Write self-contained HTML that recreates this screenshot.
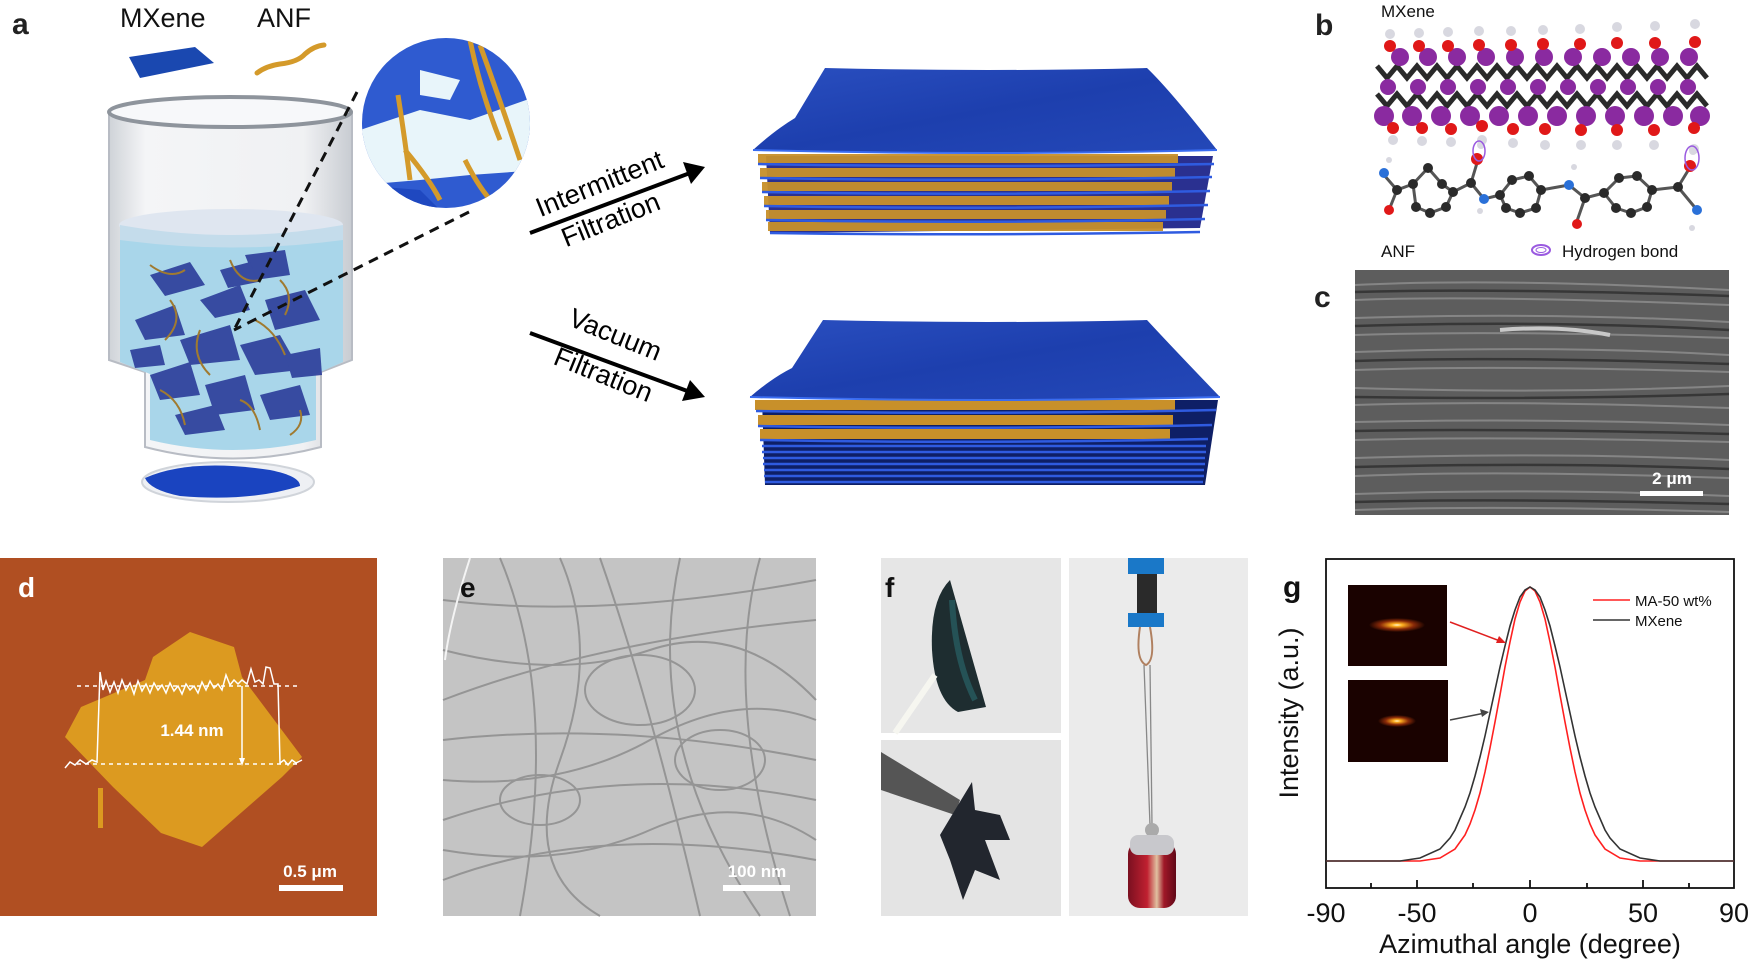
<!DOCTYPE html>
<html><head><meta charset="utf-8">
<style>
html,body{margin:0;padding:0;background:#fff;}
svg{display:block;font-family:"Liberation Sans",Arial,sans-serif;}
</style></head>
<body>
<svg width="1750" height="961" viewBox="0 0 1750 961" xmlns="http://www.w3.org/2000/svg">
<defs>
<linearGradient id="sheet" x1="0" y1="0" x2="1" y2="1">
<stop offset="0" stop-color="#2a4fc0"/><stop offset="0.5" stop-color="#1d3fae"/><stop offset="1" stop-color="#2448b8"/>
</linearGradient>
<linearGradient id="glass" x1="0" y1="0" x2="1" y2="0">
<stop offset="0" stop-color="#cfd3d8"/><stop offset="0.15" stop-color="#f4f5f7"/><stop offset="0.8" stop-color="#f0f1f3"/><stop offset="1" stop-color="#c8ccd2"/>
</linearGradient>
<radialGradient id="spot1" cx="0.5" cy="0.5" r="0.5"><stop offset="0" stop-color="#fff8d0"/><stop offset="0.2" stop-color="#ffb020"/><stop offset="0.6" stop-color="#8a2a08"/><stop offset="1" stop-color="#1a0300"/></radialGradient>
<linearGradient id="weight" x1="0" y1="0" x2="1" y2="0"><stop offset="0" stop-color="#7a1020"/><stop offset="0.4" stop-color="#c02030"/><stop offset="0.6" stop-color="#e0c0a0"/><stop offset="0.75" stop-color="#a01828"/><stop offset="1" stop-color="#600818"/></linearGradient>
</defs>

<!-- ===== Panel a ===== -->
<text x="12" y="34" font-size="30" font-weight="bold" fill="#222">a</text>
<text x="120" y="27" font-size="27" fill="#111">MXene</text>
<text x="257" y="27" font-size="27" fill="#111">ANF</text>
<polygon points="129,57 195,47 214,63 140,78" fill="#1a48b0"/>
<path d="M257,73 Q266,66 280,64 Q298,62 305,54 Q314,46 324,45" stroke="#d49a2a" stroke-width="5" fill="none" stroke-linecap="round"/>

<!-- beaker -->
<path d="M109,112 L109,360 L145,372 L145,447 Q233,470 321,447 L321,372 L352,360 L352,112 Z" fill="url(#glass)" stroke="#b8bcc4" stroke-width="2"/>
<ellipse cx="230" cy="112" rx="121" ry="15" fill="#f7f8fa" stroke="#8e949c" stroke-width="4"/>
<path d="M120,240 L120,362 L150,374 L150,440 Q233,460 316,440 L316,374 L343,362 L343,240 Z" fill="#a9d6ea"/>
<ellipse cx="231" cy="225" rx="112" ry="16" fill="#dfe6f0"/>
<path d="M120,225 L120,240 Q231,255 343,240 L343,225 Q231,245 120,225Z" fill="#c4dceb"/>
<g fill="#2b3c9a" opacity="0.9">
<polygon points="150,275 190,262 205,285 165,296"/><polygon points="200,300 240,285 250,310 215,318"/>
<polygon points="135,320 175,305 185,335 145,340"/><polygon points="245,255 285,250 290,275 255,280"/>
<polygon points="265,300 305,290 320,320 275,330"/><polygon points="180,340 230,325 240,360 190,365"/>
<polygon points="240,345 280,335 300,370 255,375"/><polygon points="150,375 190,362 200,395 160,400"/>
<polygon points="205,385 245,375 255,410 215,415"/><polygon points="260,395 300,385 310,415 270,420"/>
<polygon points="175,415 215,405 225,430 185,435"/><polygon points="220,270 250,262 258,282 228,288"/>
<polygon points="130,350 160,345 165,365 135,368"/><polygon points="285,355 320,348 322,375 292,378"/>
</g>
<g stroke="#a07a30" stroke-width="2" fill="none">
<path d="M150,265 q20,15 35,5"/><path d="M230,260 q10,25 30,20"/><path d="M170,300 q15,20 -5,40"/><path d="M255,320 q20,10 30,35"/>
<path d="M200,330 q-10,25 10,45"/><path d="M280,280 q15,15 5,35"/><path d="M160,390 q20,10 25,35"/><path d="M240,400 q15,5 20,30"/><path d="M300,410 q5,15 -10,25"/>
</g>
<ellipse cx="228" cy="482" rx="86" ry="20" fill="#eef0f4" stroke="#d0d4da" stroke-width="2"/>
<path d="M145,478 Q190,458 270,470 Q300,476 300,486 Q250,502 180,496 Q150,490 145,478Z" fill="#1a44c0"/>

<!-- zoom circle -->
<clipPath id="cc"><ellipse cx="446" cy="123" rx="84" ry="85"/></clipPath>
<g clip-path="url(#cc)">
<rect x="360" y="37" width="172" height="172" fill="#2f5bd0"/>
<polygon points="360,130 420,110 470,120 540,95 540,170 470,175 420,180 360,185" fill="#e8f5fa"/>
<polygon points="420,70 460,80 450,100 420,95" fill="#e8f5fa"/>
<polygon points="360,185 420,190 440,210 360,210" fill="#1f48c0"/>
<g stroke="#d49a2a" stroke-width="5" fill="none">
<path d="M398,95 Q405,140 410,180"/><path d="M405,150 Q430,180 440,200"/><path d="M470,40 Q480,90 500,140"/><path d="M480,45 Q500,100 520,160"/><path d="M465,160 Q480,190 495,205"/>
</g>
</g>
<g stroke="#111" stroke-width="3" stroke-dasharray="10,7" fill="none">
<line x1="357" y1="92" x2="234" y2="330"/>
<line x1="469" y1="212" x2="234" y2="330"/>
</g>

<!-- arrows -->
<line x1="530" y1="233" x2="690" y2="173" stroke="#000" stroke-width="4"/>
<polygon points="705,167 683,162 691,184" fill="#000"/>
<text transform="translate(603,192) rotate(-22)" text-anchor="middle" font-size="27" fill="#000">Intermittent</text>
<text transform="translate(614,228) rotate(-22)" text-anchor="middle" font-size="27" fill="#000">Filtration</text>
<line x1="530" y1="333" x2="690" y2="392" stroke="#000" stroke-width="4"/>
<polygon points="705,397 690,380 682,401" fill="#000"/>
<text transform="translate(612,343) rotate(22)" text-anchor="middle" font-size="27" fill="#000">Vacuum</text>
<text transform="translate(600,383) rotate(22)" text-anchor="middle" font-size="27" fill="#000">Filtration</text>

<!-- top stack -->
<g>
<path d="M766,156 L1213,156 L1200,228 L770,233 Z" fill="#2a3090"/>
<g fill="#c8902a" opacity="0.95">
<rect x="758" y="154" width="420" height="9"/><rect x="760" y="168" width="415" height="9"/>
<rect x="762" y="182" width="410" height="9"/><rect x="764" y="196" width="405" height="9"/>
<rect x="766" y="210" width="400" height="9"/><rect x="768" y="222" width="395" height="9"/>
</g>
<g stroke="#2f5be0" stroke-width="2.5" fill="none">
<path d="M758,164 Q980,168 1214,164"/><path d="M760,178 Q980,182 1212,177"/><path d="M762,192 Q980,196 1210,191"/>
<path d="M764,206 Q980,210 1208,205"/><path d="M766,220 Q980,224 1205,219"/><path d="M770,233 Q980,236 1200,232"/>
</g>
<path d="M825,68 Q990,72 1147,68 Q1170,90 1217,150 Q990,156 753,150 Q775,130 795,118 Z" fill="url(#sheet)"/>
<path d="M753,150 Q990,156 1217,150" stroke="#3a6cf0" stroke-width="2" fill="none"/>
</g>

<!-- bottom stack -->
<g>
<path d="M762,400 L1218,400 L1205,485 L765,485 Z" fill="#0e1f66"/>
<g fill="#c8902a">
<rect x="755" y="400" width="420" height="10"/><rect x="758" y="415" width="415" height="10"/><rect x="760" y="429" width="410" height="10"/>
</g>
<g stroke="#2f5be0" stroke-width="2.5" fill="none">
<path d="M756,411 Q980,415 1216,410"/><path d="M758,426 Q980,430 1212,425"/><path d="M760,440 Q980,444 1208,439"/>
<path d="M762,446 H1206"/><path d="M762,452 H1206"/><path d="M763,458 H1205"/><path d="M763,464 H1205"/>
<path d="M764,470 H1204"/><path d="M764,476 H1204"/><path d="M765,482 H1203"/>
</g>
<path d="M823,320 Q990,324 1147,320 Q1170,345 1220,397 Q990,403 750,397 Q772,378 792,368 Z" fill="url(#sheet)"/>
<path d="M750,397 Q990,403 1220,397" stroke="#3a6cf0" stroke-width="2" fill="none"/>
</g>

<!-- ===== Panel b ===== -->
<text x="1315" y="35" font-size="30" font-weight="bold" fill="#222">b</text>
<text x="1381" y="17" font-size="17" fill="#111">MXene</text>
<g stroke="#2a2a2a" stroke-width="5">
<path d="M1377,66 l10,12 l10,-12 l10,12 l10,-12 l10,12 l10,-12 l10,12 l10,-12 l10,12 l10,-12 l10,12 l10,-12 l10,12 l10,-12 l10,12 l10,-12 l10,12 l10,-12 l10,12 l10,-12 l10,12 l10,-12 l10,12 l10,-12 l10,12 l10,-12 l10,12 l10,-12 l10,12 l10,-12 l10,12 l10,-12 l10,12" fill="none"/>
<path d="M1377,94 l10,12 l10,-12 l10,12 l10,-12 l10,12 l10,-12 l10,12 l10,-12 l10,12 l10,-12 l10,12 l10,-12 l10,12 l10,-12 l10,12 l10,-12 l10,12 l10,-12 l10,12 l10,-12 l10,12 l10,-12 l10,12 l10,-12 l10,12 l10,-12 l10,12 l10,-12 l10,12 l10,-12 l10,12 l10,-12 l10,12" fill="none"/>
</g>
<g fill="#8a2aa0">
<circle cx="1400" cy="57" r="9"/><circle cx="1428" cy="57" r="9"/><circle cx="1457" cy="57" r="9"/><circle cx="1486" cy="57" r="9"/><circle cx="1515" cy="57" r="9"/><circle cx="1544" cy="57" r="9"/><circle cx="1573" cy="57" r="9"/><circle cx="1602" cy="57" r="9"/><circle cx="1631" cy="57" r="9"/><circle cx="1660" cy="57" r="9"/><circle cx="1689" cy="57" r="9"/>
<circle cx="1388" cy="87" r="8"/><circle cx="1418" cy="87" r="8"/><circle cx="1448" cy="87" r="8"/><circle cx="1478" cy="87" r="8"/><circle cx="1508" cy="87" r="8"/><circle cx="1538" cy="87" r="8"/><circle cx="1568" cy="87" r="8"/><circle cx="1598" cy="87" r="8"/><circle cx="1628" cy="87" r="8"/><circle cx="1658" cy="87" r="8"/><circle cx="1688" cy="87" r="8"/>
<circle cx="1384" cy="116" r="10"/><circle cx="1412" cy="116" r="10"/><circle cx="1441" cy="116" r="10"/><circle cx="1470" cy="116" r="10"/><circle cx="1499" cy="116" r="10"/><circle cx="1528" cy="116" r="10"/><circle cx="1557" cy="116" r="10"/><circle cx="1586" cy="116" r="10"/><circle cx="1615" cy="116" r="10"/><circle cx="1644" cy="116" r="10"/><circle cx="1673" cy="116" r="10"/><circle cx="1700" cy="116" r="10"/>
</g>
<g fill="#e01818">
<circle cx="1390" cy="46" r="6"/><circle cx="1419" cy="46" r="6"/><circle cx="1448" cy="46" r="6"/><circle cx="1479" cy="45" r="6"/><circle cx="1511" cy="45" r="6"/><circle cx="1543" cy="44" r="6"/><circle cx="1580" cy="44" r="6"/><circle cx="1617" cy="43" r="6"/><circle cx="1655" cy="43" r="6"/><circle cx="1695" cy="42" r="6"/>
<circle cx="1393" cy="128" r="6"/><circle cx="1422" cy="128" r="6"/><circle cx="1451" cy="129" r="6"/><circle cx="1482" cy="126" r="6"/><circle cx="1513" cy="129" r="6"/><circle cx="1545" cy="129" r="6"/><circle cx="1581" cy="130" r="6"/><circle cx="1617" cy="130" r="6"/><circle cx="1654" cy="130" r="6"/><circle cx="1694" cy="128" r="6"/>
</g>
<g fill="#d8d8e0">
<circle cx="1390" cy="34" r="5"/><circle cx="1419" cy="33" r="5"/><circle cx="1448" cy="32" r="5"/><circle cx="1479" cy="31" r="5"/><circle cx="1511" cy="31" r="5"/><circle cx="1543" cy="30" r="5"/><circle cx="1580" cy="29" r="5"/><circle cx="1617" cy="27" r="5"/><circle cx="1655" cy="26" r="5"/><circle cx="1695" cy="24" r="5"/>
<circle cx="1393" cy="140" r="5"/><circle cx="1422" cy="141" r="5"/><circle cx="1451" cy="142" r="5"/><circle cx="1482" cy="140" r="5"/><circle cx="1513" cy="143" r="5"/><circle cx="1545" cy="145" r="5"/><circle cx="1581" cy="145" r="5"/><circle cx="1617" cy="145" r="5"/><circle cx="1654" cy="145" r="5"/><circle cx="1694" cy="149" r="5"/>
</g>
<!-- ANF chain -->
<g stroke="#555" stroke-width="3" fill="none">
<path d="M1384,175 L1397,190 L1413,184 L1428,168 L1442,184 L1453,192 L1446,207 L1430,213 L1416,207 L1413,184"/>
<path d="M1453,192 L1471,183 L1477,163 M1471,183 L1484,199 L1500,195 L1512,180 L1529,176 L1541,190 L1536,208 L1520,213 L1506,208 L1500,195"/>
<path d="M1541,190 L1569,185 L1585,198 L1604,193 L1619,178 L1637,176 L1652,190 L1647,207 L1631,213 L1616,208 L1604,193 M1652,190 L1678,187 L1689,169 M1678,187 L1697,210 M1585,198 L1577,221 M1397,190 L1389,210"/>
</g>
<g fill="#2a2a2a">
<circle cx="1397" cy="190" r="5"/><circle cx="1413" cy="184" r="5"/><circle cx="1428" cy="168" r="5"/><circle cx="1442" cy="184" r="5"/><circle cx="1453" cy="192" r="5"/><circle cx="1446" cy="207" r="5"/><circle cx="1430" cy="213" r="5"/><circle cx="1416" cy="207" r="5"/><circle cx="1471" cy="183" r="5"/>
<circle cx="1500" cy="195" r="5"/><circle cx="1512" cy="180" r="5"/><circle cx="1529" cy="176" r="5"/><circle cx="1541" cy="190" r="5"/><circle cx="1536" cy="208" r="5"/><circle cx="1520" cy="213" r="5"/><circle cx="1506" cy="208" r="5"/>
<circle cx="1585" cy="198" r="5"/><circle cx="1604" cy="193" r="5"/><circle cx="1619" cy="178" r="5"/><circle cx="1637" cy="176" r="5"/><circle cx="1652" cy="190" r="5"/><circle cx="1647" cy="207" r="5"/><circle cx="1631" cy="213" r="5"/><circle cx="1616" cy="208" r="5"/><circle cx="1678" cy="187" r="5"/>
</g>
<g fill="#e01818"><circle cx="1389" cy="210" r="5"/><circle cx="1477" cy="159" r="6"/><circle cx="1577" cy="224" r="5"/><circle cx="1690" cy="166" r="6"/></g>
<g fill="#2a70d8"><circle cx="1384" cy="173" r="5"/><circle cx="1484" cy="199" r="5"/><circle cx="1569" cy="185" r="5"/><circle cx="1697" cy="210" r="5"/></g>
<g fill="#d8d8e0"><circle cx="1389" cy="160" r="3"/><circle cx="1480" cy="211" r="3"/><circle cx="1574" cy="167" r="3"/><circle cx="1692" cy="228" r="3"/><circle cx="1481" cy="145" r="4"/><circle cx="1693" cy="151" r="4"/></g>
<g stroke="#9a5ae0" stroke-width="1.5" fill="none"><ellipse cx="1479" cy="151" rx="6" ry="10"/><ellipse cx="1692" cy="158" rx="7" ry="12"/></g>
<text x="1381" y="257" font-size="17" fill="#111">ANF</text>
<ellipse cx="1541" cy="250" rx="9" ry="5" fill="none" stroke="#9a5ae0" stroke-width="2"/>
<ellipse cx="1541" cy="250" rx="5" ry="2.5" fill="none" stroke="#9a5ae0" stroke-width="1"/>
<text x="1562" y="257" font-size="17" fill="#111">Hydrogen bond</text>

<!-- ===== Panel c ===== -->
<text x="1314" y="307" font-size="30" font-weight="bold" fill="#222">c</text>
<rect x="1355" y="270" width="374" height="245" fill="#5d5d5d"/>
<g stroke="#8a8a8a" stroke-width="2" fill="none" opacity="0.9">
<path d="M1355,285 Q1500,278 1729,290"/><path d="M1355,300 Q1480,295 1729,305"/><path d="M1355,318 Q1550,312 1729,322"/>
<path d="M1355,335 Q1500,330 1729,338"/><path d="M1355,352 Q1560,345 1729,355"/><path d="M1355,370 Q1500,365 1729,372"/>
<path d="M1355,388 Q1550,394 1729,386"/><path d="M1355,405 Q1500,400 1729,408"/><path d="M1355,422 Q1550,418 1729,425"/>
<path d="M1355,440 Q1500,436 1729,442"/><path d="M1355,458 Q1560,452 1729,460"/><path d="M1355,476 Q1500,470 1729,478"/>
<path d="M1355,494 Q1550,488 1729,496"/><path d="M1355,510 Q1500,505 1729,512"/>
</g>
<g stroke="#2e2e2e" stroke-width="2.5" fill="none" opacity="0.8">
<path d="M1355,292 Q1500,288 1729,296"/><path d="M1355,326 Q1550,320 1729,330"/><path d="M1355,361 Q1500,356 1729,364"/>
<path d="M1355,397 Q1550,400 1729,394"/><path d="M1355,431 Q1500,428 1729,434"/><path d="M1355,467 Q1560,462 1729,469"/><path d="M1355,502 Q1500,498 1729,504"/>
</g>
<path d="M1500,330 Q1560,325 1610,335" stroke="#c8c8c8" stroke-width="4" fill="none"/>
<text x="1672" y="484" font-size="17" font-weight="bold" fill="#fff" text-anchor="middle">2 μm</text>
<rect x="1640" y="491" width="63" height="5" fill="#fff"/>

<!-- ===== Panel d ===== -->
<rect x="0" y="558" width="377" height="358" fill="#b04f22"/>
<polygon points="190,632 234,647 242,677 302,757 282,777 202,847 161,833 113,787 65,737 81,707 145,680 153,657" fill="#dc9a20"/>
<rect x="98" y="788" width="5" height="40" fill="#dc9a20"/>
<text x="18" y="597" font-size="28" font-weight="bold" fill="#fff">d</text>
<g stroke="#fff" stroke-width="1.5" stroke-dasharray="4,4"><line x1="77" y1="686" x2="298" y2="686"/><line x1="77" y1="764" x2="298" y2="764"/></g>
<polyline fill="none" stroke="#fff" stroke-width="1.5" points="65,768 70,762 75,765 80,760 86,764 92,760 97,762 100,672 103,690 106,681 110,692 114,682 118,693 122,680 126,690 130,683 134,694 138,681 142,691 146,684 150,693 154,683 158,690 162,685 166,693 170,683 174,691 178,686 182,694 186,684 190,690 194,686 198,693 202,682 206,690 210,681 214,688 218,684 222,690 226,675 230,685 234,680 238,684 242,680 247,684 251,669 255,682 259,680 263,684 266,667 270,668 274,684 278,684 280,763 284,760 288,765 292,760 296,763 302,760"/>
<line x1="242" y1="686" x2="242" y2="762" stroke="#fff" stroke-width="1.5"/>
<polygon points="242,766 239,758 245,758" fill="#fff"/>
<text x="192" y="736" font-size="17" font-weight="bold" fill="#fff" text-anchor="middle">1.44 nm</text>
<text x="310" y="877" font-size="17" font-weight="bold" fill="#fff" text-anchor="middle">0.5 μm</text>
<rect x="279" y="885" width="64" height="6" fill="#fff"/>

<!-- ===== Panel e ===== -->
<rect x="443" y="558" width="373" height="358" fill="#c4c4c4"/>
<g stroke="#8a8a8a" stroke-width="2" fill="none" opacity="0.8">
<path d="M443,700 Q600,640 816,620"/><path d="M443,740 Q620,720 816,760"/><path d="M500,558 Q560,700 520,916"/>
<path d="M600,558 Q650,700 700,916"/><path d="M680,558 Q640,740 760,916"/><path d="M443,820 Q620,760 816,800"/>
<path d="M443,880 Q600,820 816,860"/><path d="M760,558 Q720,700 790,916"/><path d="M443,600 Q600,620 816,580"/>
<ellipse cx="640" cy="690" rx="55" ry="35"/><ellipse cx="720" cy="760" rx="45" ry="30"/><ellipse cx="540" cy="800" rx="40" ry="25"/>
<path d="M443,650 Q560,680 650,650 T816,700"/><path d="M443,780 Q560,790 650,740 T816,720"/>
<path d="M560,558 Q600,650 560,760 T600,916"/><path d="M443,850 Q560,870 650,830 T816,840"/>
</g>
<path d="M470,558 Q450,620 445,660" stroke="#f4f4f4" stroke-width="2" fill="none"/>
<text x="460" y="597" font-size="28" font-weight="bold" fill="#111">e</text>
<text x="757" y="877" font-size="17" font-weight="bold" fill="#fff" text-anchor="middle">100 nm</text>
<rect x="723" y="885" width="67" height="6" fill="#fff"/>

<!-- ===== Panel f ===== -->
<rect x="881" y="558" width="180" height="175" fill="#e6e6e6"/>
<rect x="881" y="740" width="180" height="176" fill="#e4e4e4"/>
<rect x="1069" y="558" width="179" height="358" fill="#ebebeb"/>
<path d="M950,580 L986,707 L958,712 Q935,700 932,650 Q930,600 950,580Z" fill="#1e2d30"/>
<path d="M952,600 Q955,660 975,700" stroke="#2a6a70" stroke-width="6" fill="none" opacity="0.6"/>
<path d="M895,733 L935,675" stroke="#f6f6f0" stroke-width="6"/>
<path d="M881,752 L960,800 L955,815 L881,790Z" fill="#555"/>
<polygon points="972,782 975,810 1000,815 1010,840 985,840 1000,880 975,870 963,900 950,860 940,835 955,810" fill="#22262e"/>
<text x="885" y="597" font-size="28" font-weight="bold" fill="#111">f</text>
<rect x="1128" y="558" width="36" height="16" fill="#1a78c8"/>
<rect x="1137" y="574" width="20" height="42" fill="#2a2a2a"/>
<rect x="1128" y="613" width="36" height="14" fill="#1a78c8"/>
<path d="M1140,627 Q1135,660 1146,665 Q1156,660 1150,627" stroke="#b08060" stroke-width="2" fill="none"/>
<line x1="1144" y1="665" x2="1150" y2="825" stroke="#888" stroke-width="1.3"/>
<line x1="1150" y1="665" x2="1152" y2="825" stroke="#888" stroke-width="1.3"/>
<circle cx="1152" cy="830" r="7" fill="#aaa"/>
<rect x="1128" y="842" width="48" height="66" rx="12" fill="url(#weight)"/>
<rect x="1130" y="835" width="44" height="20" rx="8" fill="#c8c8cc"/>

<!-- ===== Panel g ===== -->
<text x="1283" y="597" font-size="30" font-weight="bold" fill="#111">g</text>
<rect x="1326" y="559" width="408" height="329" fill="none" stroke="#111" stroke-width="1.8"/>
<g stroke="#111" stroke-width="1.8">
<line x1="1371" y1="888" x2="1371" y2="883"/><line x1="1417" y1="888" x2="1417" y2="880"/><line x1="1473" y1="888" x2="1473" y2="883"/>
<line x1="1530" y1="888" x2="1530" y2="880"/><line x1="1587" y1="888" x2="1587" y2="883"/><line x1="1643" y1="888" x2="1643" y2="880"/><line x1="1689" y1="888" x2="1689" y2="883"/>
</g>
<g font-size="27" fill="#111" text-anchor="middle">
<text x="1326" y="922">-90</text><text x="1417" y="922">-50</text><text x="1530" y="922">0</text><text x="1643" y="922">50</text><text x="1734" y="922">90</text>
</g>
<text x="1530" y="953" font-size="27" fill="#111" text-anchor="middle">Azimuthal angle (degree)</text>
<text transform="translate(1298,713) rotate(-90)" font-size="27" fill="#111" text-anchor="middle">Intensity (a.u.)</text>
<polyline fill="none" stroke="#ff2020" stroke-width="1.6" points="1326,861 1420,861 1440,858 1455,849 1465,835 1470,824 1475,810 1480,793 1485,772 1490,748 1495,722 1500,695 1505,667 1510,642 1515,619 1520,602 1525,591 1530,587 1535,591 1540,602 1545,619 1550,642 1555,667 1560,695 1565,722 1570,748 1575,772 1580,793 1585,810 1590,824 1595,835 1605,849 1620,858 1640,861 1734,861"/>
<polyline fill="none" stroke="#333" stroke-width="1.6" points="1326,861 1400,861 1420,858 1440,849 1450,838 1455,830 1465,807 1470,793 1475,776 1480,757 1485,736 1490,713 1495,690 1500,667 1505,646 1510,626 1515,610 1520,597 1525,590 1530,587 1535,590 1540,597 1545,610 1550,626 1555,646 1560,667 1565,690 1570,713 1575,736 1580,757 1585,776 1590,793 1595,807 1605,830 1610,838 1620,849 1640,858 1660,861 1734,861"/>
<rect x="1348" y="585" width="99" height="81" fill="#1a0200"/>
<ellipse cx="1397" cy="625" rx="28" ry="7" fill="url(#spot1)"/>
<rect x="1348" y="680" width="100" height="82" fill="#1a0200"/>
<ellipse cx="1397" cy="721" rx="19" ry="6" fill="url(#spot1)"/>
<line x1="1450" y1="622" x2="1500" y2="641" stroke="#e02020" stroke-width="1.5"/>
<polygon points="1506,643 1496,643 1499,636" fill="#e02020"/>
<line x1="1450" y1="720" x2="1485" y2="713" stroke="#444" stroke-width="1.5"/>
<polygon points="1489,712 1480,709 1482,717" fill="#444"/>
<line x1="1593" y1="600" x2="1630" y2="600" stroke="#ff2020" stroke-width="1.6"/>
<line x1="1593" y1="620" x2="1630" y2="620" stroke="#333" stroke-width="1.6"/>
<text x="1635" y="606" font-size="15" fill="#111">MA-50 wt%</text>
<text x="1635" y="626" font-size="15" fill="#111">MXene</text>
</svg>
</body></html>
